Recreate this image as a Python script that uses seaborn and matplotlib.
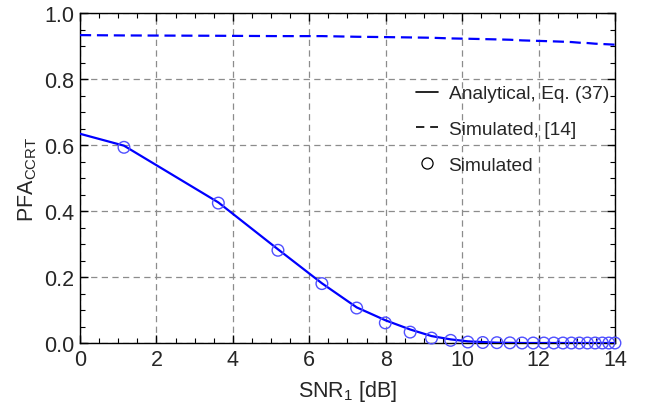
import pandas as pd
import numpy as np
from matplotlib import pyplot as plt
from matplotlib.lines import Line2D
from matplotlib.ticker import MultipleLocator
import seaborn as sns

# SNR points in dB
snr_db = [0.0, 1.15, 3.62, 5.18, 6.33, 7.24, 7.99, 8.64, 9.20, 9.70, 10.15, 10.54,
          10.91, 11.25, 11.57, 11.86, 12.14, 12.40, 12.64, 12.86, 13.07, 13.28,
          13.48, 13.67, 13.84, 14.0]

# analytical curve, Eq. (37)
pfa_analytical = [0.634, 0.598, 0.426, 0.284, 0.181, 0.108, 0.069, 0.041, 0.021,
                  0.011, 0.005, 0.003, 0.001, 0.0005, 0, 0, 0, 0, 0, 0, 0, 0,
                  0, 0, 0, 0]

# simulated curve from [14]
pfa_sim_ref = [0.933, 0.932, 0.931, 0.930, 0.930, 0.928, 0.927, 0.926, 0.925,
               0.923, 0.922, 0.921, 0.920, 0.919, 0.917, 0.916, 0.915, 0.914,
               0.913, 0.912, 0.910, 0.909, 0.907, 0.906, 0.905, 0.904]

# simulated markers (no marker at 0 dB)
snr_sim = snr_db[1:]
pfa_sim = [0.593, 0.424, 0.281, 0.180, 0.106, 0.061, 0.033, 0.015, 0.008, 0.003,
           0.0015, 0.001, 0.0005, 0, 0, 0, 0, 0, 0, 0, 0, 0, 0, 0, 0]

df_curves = pd.DataFrame({"snr": snr_db, "analytical": pfa_analytical, "ref": pfa_sim_ref})
df_sim = pd.DataFrame({"snr": snr_sim, "pfa": pfa_sim})

sns.set_style("ticks")
plt.rcParams["font.family"] = ["Liberation Sans", "DejaVu Sans"]
plt.rcParams["mathtext.fontset"] = "custom"
plt.rcParams["mathtext.rm"] = "Liberation Sans"
plt.rcParams["mathtext.it"] = "Liberation Sans:italic"

fig, ax = plt.subplots(figsize=(6.48, 4.06), dpi=100)
fig.subplots_adjust(left=0.1235, right=0.949, top=0.9655, bottom=0.1527)

sns.lineplot(data=df_curves, x="snr", y="analytical", ax=ax, color="#0000ff",
             lw=1.6, zorder=3)
sns.lineplot(data=df_curves, x="snr", y="ref", ax=ax, color="#0000ff",
             lw=1.6, zorder=3).lines[-1].set_dashes([5, 2.6])
sns.scatterplot(data=df_sim, x="snr", y="pfa", ax=ax, marker="o", s=70,
                facecolor="none", edgecolor="#5050ff", linewidth=1.0, zorder=4,
                clip_on=False)

ax.set_xlim(0, 14)
ax.set_ylim(0, 1.0)
ax.xaxis.set_major_locator(MultipleLocator(2))
ax.xaxis.set_minor_locator(MultipleLocator(0.5))
ax.yaxis.set_major_locator(MultipleLocator(0.2))
ax.yaxis.set_minor_locator(MultipleLocator(0.05))
ax.yaxis.set_major_formatter(plt.FuncFormatter(lambda v, p: f"{v:.1f}"))
ax.tick_params(which="both", direction="in", top=True, right=True,
               labelsize=15.5, color="black", pad=4)
ax.tick_params(which="major", length=6, width=1)
ax.tick_params(which="minor", length=3.5, width=0.8)
for s in ax.spines.values():
    s.set_color("black")
    s.set_linewidth(1.0)

ax.grid(True, which="major", color="#8c8c8c", linestyle=(0, (5, 3.5)), linewidth=0.9)

ax.set_xlabel(r"SNR$_1$ [dB]", fontsize=15.5, labelpad=6)
ax.set_ylabel(r"PFA$_{\rm CCRT}$", fontsize=15.5, labelpad=4)

handles = [
    Line2D([], [], color="black", lw=1.2),
    Line2D([], [], color="black", lw=1.2, dashes=[5, 3.5]),
    Line2D([], [], color="black", marker="o", ls="none", markersize=8,
           markerfacecolor="none", markeredgewidth=0.9),
]
labels = ["Analytical, Eq. (37)", "Simulated, [14]", "Simulated"]
ax.legend(handles, labels, loc="upper left", bbox_to_anchor=(0.628, 0.782),
          frameon=False, fontsize=13.8, handlelength=1.15, handletextpad=0.55,
          labelspacing=0.95, borderpad=0, borderaxespad=0)

fig.savefig("out.png", dpi=100)
